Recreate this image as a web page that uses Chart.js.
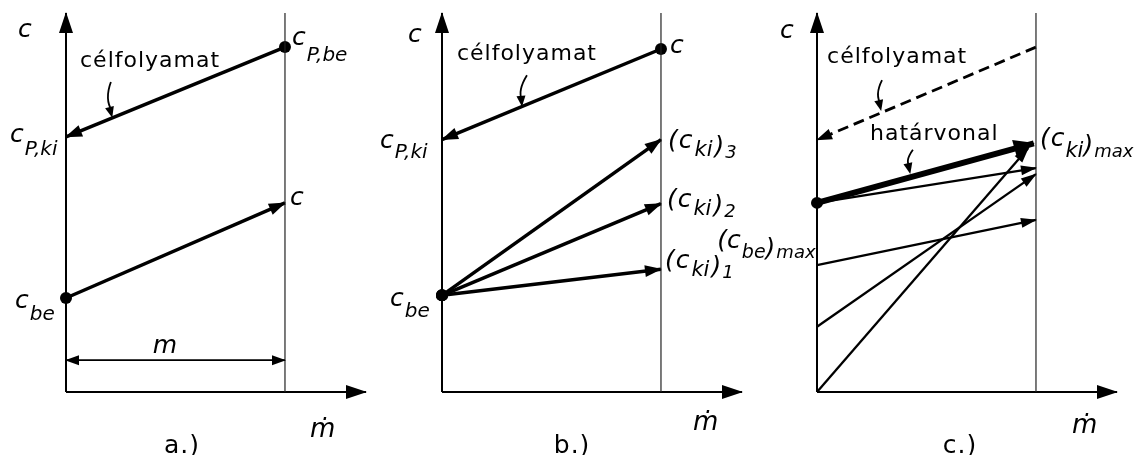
<!DOCTYPE html>
<html><head><meta charset="utf-8">
<script src="https://cdn.jsdelivr.net/npm/chart.js@4/dist/chart.umd.min.js"></script>
<style>
html,body{margin:0;padding:0;background:#fff;}
body{width:1141px;height:455px;position:relative;overflow:hidden;}
canvas{position:absolute;top:0;}
</style></head><body>
<canvas id="ca" width="400" height="455" style="left:0px"></canvas>
<canvas id="cb" width="400" height="455" style="left:372px"></canvas>
<canvas id="cc" width="426" height="455" style="left:715px"></canvas>
<script>
// Axis units: x = 0 at the c axis, 1 at the outlet (ṁ) line; y = 0..100 concentration
const X_MAX = 1.37, Y_MAX = 100;

// ---- panel a.) ----
const aTarget = [[1, 91.0], [0, 67.3]];   // c_P,be -> c_P,ki (célfolyamat)
const aStream = [[0, 24.8], [1, 49.9]];   // c_be -> c
const aSpan   = [[0, 8.4], [1, 8.4]];     // m

// ---- panel b.) ----
const bTarget = [[1, 90.5], [0, 66.6]];   // c -> c_P,ki
const bStart  = [0, 25.5];                // c_be
const bEnds   = [66.6, 49.7, 32.4];       // (c_ki)_3, (c_ki)_2, (c_ki)_1

// ---- panel c.) ----
const cTarget = [[1, 91.0], [0, 66.5]];   // célfolyamat (dashed)
const cLimit  = [[0, 49.9], [0.99, 65.6]]; // határvonal -> (c_ki)_max
const cLines  = [
  [[0, 49.9], [1, 59.1]],
  [[0, 33.5], [1, 45.4]],
  [[0, 17.2], [1, 57.5]],
  [[0, 0],    [0.965, 64.4]]
];

// curved leader arrows [x1,y1,x2,y2]
const aLeaders = [[0.205, 81.8, 0.21, 72.6]];
const bLeaders = [[0.388, 83.6, 0.365, 75.5]];
const cLeaders = [[0.297, 82.3, 0.292, 74.4], [0.438, 63.9, 0.425, 57.8]];

// labels (anchor in axis units, baseline-left unless centered)
const aLabels = [
  {x:-0.219, y:93.7, parts:[{t:'c'}]},
  {x:0.064, y:85.8, parts:[{t:'célfolyamat', up:true}]},
  {x:1.032, y:91.6, parts:[{t:'c'},{t:'P,be', s:20, dy:16, gap:1}]},
  {x:-0.256, y:66.0, parts:[{t:'c'},{t:'P,ki', s:20, dy:13, gap:1}]},
  {x:1.023, y:49.3, parts:[{t:'c'}]},
  {x:-0.233, y:22.2, parts:[{t:'c'},{t:'be', s:20, dy:12, gap:1}]},
  {x:0.452, y:10.3, center:true, parts:[{t:'m'}]},
  {x:1.114, y:-11.9, parts:[{t:'ṁ', s:26}]},
  {x:0.53, y:-16.1, center:true, parts:[{t:'a.)', up:true, s:25}]}
];
const ckiParts = n => [{t:'('},{t:'c', gap:1},{t:'ki', s:21, dy:8, gap:2},{t:')', dy:6, gap:2},{t:n, s:18, dy:10, gap:1}];
const bLabels = [
  {x:-0.155, y:92.3, parts:[{t:'c'}]},
  {x:0.068, y:87.6, parts:[{t:'célfolyamat', up:true}]},
  {x:1.041, y:89.4, parts:[{t:'c'}]},
  {x:-0.283, y:64.4, parts:[{t:'c'},{t:'P,ki', s:20, dy:10, gap:1}]},
  {x:-0.237, y:22.7, parts:[{t:'c'},{t:'be', s:20, dy:11, gap:1}]},
  {x:1.032, y:64.4, parts:ckiParts('3')},
  {x:1.027, y:48.8, parts:ckiParts('2')},
  {x:1.018, y:32.7, parts:ckiParts('1')},
  {x:1.146, y:-10.0, parts:[{t:'ṁ', s:26}]},
  {x:0.594, y:-16.1, center:true, parts:[{t:'b.)', up:true, s:25}]}
];
const cLabels = [
  {x:-0.169, y:93.4, parts:[{t:'c'}]},
  {x:0.046, y:86.8, parts:[{t:'célfolyamat', up:true}]},
  {x:0.242, y:66.5, parts:[{t:'határvonal', up:true}]},
  {x:-0.455, y:38.0, parts:[{t:'('},{t:'c'},{t:'be', s:19, dy:10, gap:1},{t:')', dy:8},{t:'max', s:18, dy:10, gap:1}]},
  {x:1.018, y:64.9, parts:[{t:'('},{t:'c', gap:1},{t:'ki', s:21, dy:11, gap:1},{t:')', dy:7},{t:'max', s:18, dy:11, gap:1}]},
  {x:1.164, y:-10.8, parts:[{t:'ṁ', s:26}]},
  {x:0.653, y:-16.1, center:true, parts:[{t:'c.)', up:true, s:25}]}
];

const FONT = '"DejaVu Sans", "Liberation Sans", sans-serif';

function seg(pts, opt) {
  return Object.assign({
    data: pts.map(p => ({x: p[0], y: p[1]})),
    showLine: true, borderColor: '#000', backgroundColor: '#000',
    pointBackgroundColor: '#000', pointBorderWidth: 0,
    borderWidth: 3.5, pointRadius: 0, clip: false, tension: 0,
    arrowLen: 17, arrowW: 6
  }, opt);
}

function frame() {
  return [
    seg([[1, 0], [1, 100]], {borderWidth: 1.2, borderColor: '#222'}),
    seg([[0, 0], [0, Y_MAX]], {borderWidth: 2, arrow: 'end', arrowLen: 21, arrowW: 7}),
    seg([[0, 0], [X_MAX, 0]], {borderWidth: 2, arrow: 'end', arrowLen: 21, arrowW: 7})
  ];
}

function drawHead(ctx, p, q, len, w, color) {
  const dx = p.x - q.x, dy = p.y - q.y, L = Math.hypot(dx, dy) || 1;
  const ux = dx / L, uy = dy / L;
  const tx = p.x + ux, ty = p.y + uy;
  const bx = tx - ux * len, by = ty - uy * len;
  ctx.save();
  ctx.fillStyle = color;
  ctx.beginPath();
  ctx.moveTo(tx, ty);
  ctx.lineTo(bx - uy * w, by + ux * w);
  ctx.lineTo(bx + uy * w, by - ux * w);
  ctx.closePath();
  ctx.fill();
  ctx.restore();
}

const arrowPlugin = {
  id: 'arrowheads',
  afterDatasetsDraw(chart) {
    const ctx = chart.ctx;
    chart.data.datasets.forEach((ds, i) => {
      if (!ds.arrow) return;
      const pts = chart.getDatasetMeta(i).data;
      const n = pts.length;
      if (ds.arrow === 'end' || ds.arrow === 'both') drawHead(ctx, pts[n-1], pts[n-2], ds.arrowLen, ds.arrowW, ds.borderColor);
      if (ds.arrow === 'start' || ds.arrow === 'both') drawHead(ctx, pts[0], pts[1], ds.arrowLen, ds.arrowW, ds.borderColor);
    });
  }
};

function decor(labels, leaders) {
  return {
    id: 'decor',
    afterDraw(chart) {
      const ctx = chart.ctx, xs = chart.scales.x, ys = chart.scales.y;
      ctx.save();
      // leaders
      leaders.forEach(l => {
        const x1 = xs.getPixelForValue(l[0]), y1 = ys.getPixelForValue(l[1]);
        const x2 = xs.getPixelForValue(l[2]), y2 = ys.getPixelForValue(l[3]);
        const cx = (x1 + x2) / 2 - 7, cy = (y1 + y2) / 2;
        ctx.strokeStyle = '#000'; ctx.lineWidth = 1.8;
        ctx.beginPath(); ctx.moveTo(x1, y1); ctx.quadraticCurveTo(cx, cy, x2, y2 - 6); ctx.stroke();
        drawHead(ctx, {x: x2, y: y2}, {x: cx + 3, y: cy}, 11, 4.5, '#000');
      });
      // labels
      ctx.fillStyle = '#000';
      ctx.textBaseline = 'alphabetic';
      const sizeOf = p => p.s || (p.up ? 22 : 25);
      const setFont = p => {
        ctx.font = `${p.up ? '' : 'italic '}${sizeOf(p)}px ${FONT}`;
        ctx.letterSpacing = p.up ? '1px' : '0px';
      };
      labels.forEach(lab => {
        let x = xs.getPixelForValue(lab.x);
        const y = ys.getPixelForValue(lab.y);
        if (lab.center) {
          let w = 0;
          lab.parts.forEach(p => { setFont(p); w += ctx.measureText(p.t).width + (p.gap || 0); });
          x -= w / 2;
        }
        lab.parts.forEach(p => {
          setFont(p);
          x += (p.gap || 0);
          ctx.fillText(p.t, x, y + (p.dy || 0));
          x += ctx.measureText(p.t).width;
        });
      });
      ctx.restore();
    }
  };
}

function panel(id, padLeft, padRight, datasets, labels, leaders) {
  return new Chart(document.getElementById(id), {
    type: 'scatter',
    data: {datasets},
    options: {
      responsive: false, animation: false, devicePixelRatio: 1, events: [],
      layout: {padding: {left: padLeft, right: padRight, top: 13, bottom: 63}},
      scales: {
        x: {type: 'linear', min: 0, max: X_MAX, display: false},
        y: {type: 'linear', min: 0, max: Y_MAX, display: false}
      },
      plugins: {legend: {display: false}, tooltip: {enabled: false}}
    },
    plugins: [arrowPlugin, decor(labels, leaders)]
  });
}

// panel a
panel('ca', 66, 34, [
  ...frame(),
  seg(aTarget, {arrow: 'end', pointRadius: [6, 0]}),
  seg(aStream, {arrow: 'end', pointRadius: [6, 0]}),
  seg(aSpan, {borderWidth: 1.6, arrow: 'both', arrowLen: 14, arrowW: 5})
], aLabels, aLeaders);

// panel b
panel('cb', 70, 30, [
  ...frame(),
  seg(bTarget, {arrow: 'end', pointRadius: [6, 0]}),
  ...bEnds.map(v => seg([bStart, [1, v]], {arrow: 'end', pointRadius: [6, 0]}))
], bLabels, bLeaders);

// panel c
panel('cc', 102, 24, [
  ...frame(),
  seg(cTarget, {borderWidth: 2.8, borderDash: [11, 6], arrow: 'end', arrowLen: 16, arrowW: 5.5}),
  ...cLines.map(l => seg(l, {borderWidth: 2.3, arrow: 'end', arrowLen: 16, arrowW: 5})),
  seg(cLimit, {borderWidth: 6, arrow: 'end', pointRadius: [6, 0], arrowLen: 21, arrowW: 9})
], cLabels, cLeaders);
</script>
</body></html>
